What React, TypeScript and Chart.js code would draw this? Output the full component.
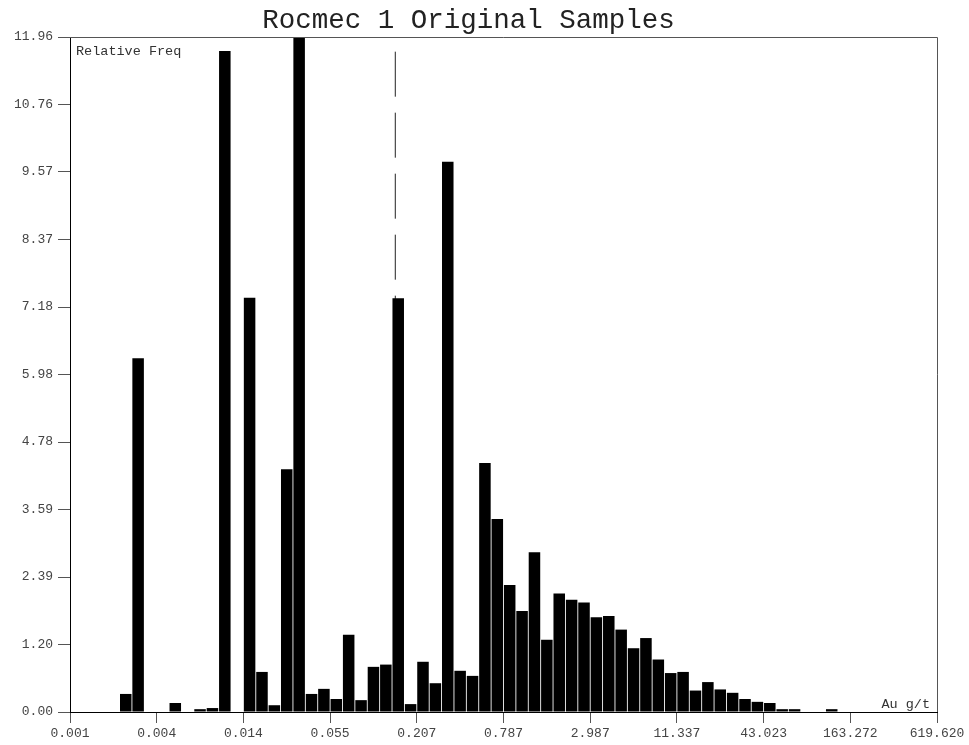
import React, { useEffect, useRef } from "react";
import { Chart, registerables } from "chart.js";

Chart.register(...registerables);

// ---- data ----
const chartTitle = "Rocmec 1 Original Samples";
const yAxisText = "Relative Freq";
const xAxisText = "Au g/t";
const xMin = 0.001;
const xMax = 619.62;
const xTickLabels = ["0.001", "0.004", "0.014", "0.055", "0.207", "0.787", "2.987", "11.337", "43.023", "163.272", "619.620"];
const yMax = 11.96;
const yTickCount = 10;
// relative frequency per log-spaced bin (70 bins from 0.001 to 619.62)
const binValues = [
  0, 0, 0, 0, 0.32, 6.27, 0, 0, 0.16, 0,
  0.05, 0.07, 11.71, 0, 7.34, 0.71, 0.12, 4.3, 11.96, 0.32,
  0.41, 0.23, 1.37, 0.21, 0.8, 0.84, 7.33, 0.14, 0.89, 0.51,
  9.75, 0.73, 0.64, 4.41, 3.42, 2.25, 1.79, 2.83, 1.28, 2.1,
  1.99, 1.94, 1.68, 1.7, 1.46, 1.13, 1.31, 0.93, 0.69, 0.71,
  0.38, 0.53, 0.4, 0.34, 0.23, 0.18, 0.16, 0.05, 0.05, 0,
  0, 0.05, 0, 0, 0, 0, 0, 0, 0, 0,
];
const markerValue = 0.149; // dashed marker (Au g/t)
const markerHeight = 11.7;

const FONT = "'Courier New', 'Liberation Mono', monospace";

export default function App() {
  const ref = useRef<HTMLCanvasElement | null>(null);

  useEffect(() => {
    if (!ref.current) return;
    const lo = Math.log10(xMin);
    const hi = Math.log10(xMax);
    const binW = (hi - lo) / binValues.length;
    const barData = binValues.map((v, i) => ({ x: lo + (i + 0.5) * binW, y: v }));
    const mx = Math.log10(markerValue);

    const framePlugin = {
      id: "frame",
      afterDraw(chart: any) {
        const { ctx, chartArea } = chart;
        ctx.save();
        ctx.strokeStyle = "#555";
        ctx.lineWidth = 1;
        ctx.beginPath();
        ctx.moveTo(chartArea.left, Math.round(chartArea.top) + 0.5);
        ctx.lineTo(Math.round(chartArea.right) + 0.5, Math.round(chartArea.top) + 0.5);
        ctx.lineTo(Math.round(chartArea.right) + 0.5, chartArea.bottom);
        ctx.stroke();
        ctx.fillStyle = "#333";
        ctx.font = `13.5px ${FONT}`;
        ctx.textBaseline = "middle";
        ctx.textAlign = "left";
        ctx.fillText(yAxisText, chartArea.left + 6, chartArea.top + 14);
        ctx.textAlign = "right";
        ctx.fillText(xAxisText, chartArea.right - 7, chartArea.bottom - 8);
        ctx.restore();
      },
    };

    const chart = new Chart(ref.current, {
      type: "bar",
      data: {
        datasets: [
          {
            type: "line",
            data: [
              { x: mx, y: markerHeight },
              { x: mx, y: 0 },
            ],
            borderColor: "#222",
            borderWidth: 1,
            borderDash: [45, 16],
            pointRadius: 0,
            fill: false,
            order: 2,
          } as any,
          {
            type: "bar",
            data: barData,
            backgroundColor: "#000",
            borderWidth: 0,
            barPercentage: 1,
            categoryPercentage: 0.93,
            order: 1,
          },
        ],
      },
      options: {
        animation: false,
        responsive: false,
        layout: { padding: { left: 0, right: 32, top: 0, bottom: 0 } },
        plugins: {
          legend: { display: false },
          tooltip: { enabled: false },
          title: {
            display: true,
            text: chartTitle,
            color: "#222",
            font: { family: FONT, size: 27.5, weight: "normal" },
            padding: { top: 4, bottom: 0 },
          },
        },
        scales: {
          x: {
            type: "linear",
            min: lo,
            max: hi,
            offset: false,
            afterBuildTicks: (scale: any) => {
              scale.ticks = xTickLabels.map((_, k) => ({ value: lo + (k * (hi - lo)) / (xTickLabels.length - 1) }));
            },
            afterFit: (scale: any) => {
              scale.height = 33;
            },
            ticks: {
              autoSkip: false,
              maxRotation: 0,
              padding: 3,
              color: "#444",
              font: { family: FONT, size: 13 },
              callback: (_v: any, i: number) => xTickLabels[i],
            },
            grid: { offset: false, drawOnChartArea: false, drawTicks: true, tickLength: 11, color: "#555" },
            border: { display: true, color: "#000", width: 1 },
          },
          y: {
            type: "linear",
            min: 0,
            max: yMax,
            afterBuildTicks: (scale: any) => {
              const t = [];
              for (let k = 0; k <= yTickCount; k++) t.push({ value: (k * yMax) / yTickCount });
              scale.ticks = t;
            },
            afterFit: (scale: any) => {
              scale.width = 70;
            },
            ticks: {
              padding: 5,
              color: "#444",
              font: { family: FONT, size: 13 },
              callback: (v: any) => Number(v).toFixed(2),
            },
            grid: { drawOnChartArea: false, drawTicks: true, tickLength: 12, color: "#555" },
            border: { display: true, color: "#000", width: 1 },
          },
        },
      },
      plugins: [framePlugin],
    } as any);
    return () => chart.destroy();
  }, []);

  return (
    <div style={{ position: "absolute", left: 0, top: 0, width: 969, height: 745, background: "#fff" }}>
      <canvas ref={ref} width={969} height={745} style={{ display: "block" }} />
    </div>
  );
}
